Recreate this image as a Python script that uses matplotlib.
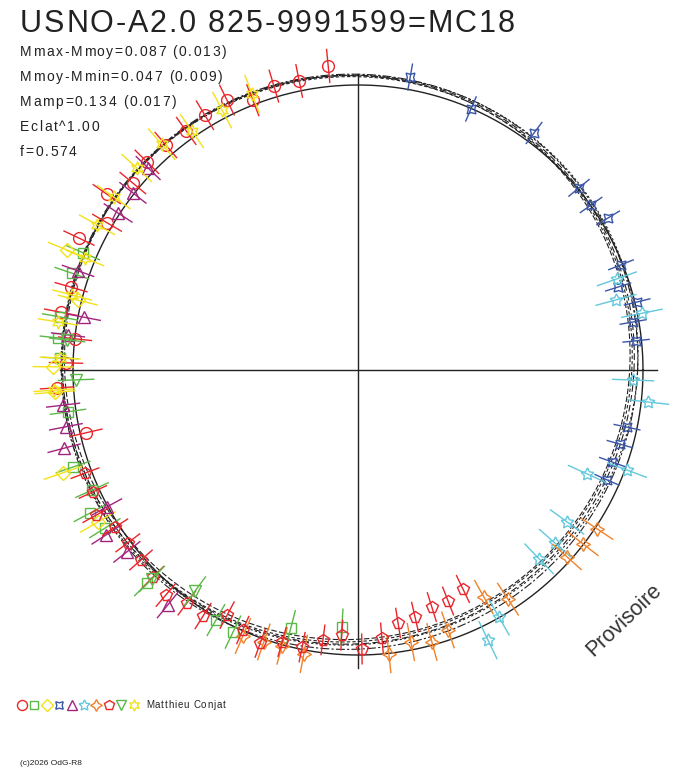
import numpy as np
import matplotlib
matplotlib.use("Agg")
import matplotlib.pyplot as plt
from matplotlib.font_manager import FontProperties
from matplotlib.textpath import TextToPath

plt.rcParams['font.family'] = ['Liberation Sans', 'DejaVu Sans']

# texts ###################################################################
title = "USNO-A2.0 825-9991599=MC18"
info_lines = ["Mmax-Mmoy=0.087 (0.013)",
              "Mmoy-Mmin=0.047 (0.009)",
              "Mamp=0.134 (0.017)",
              "Eclat^1.00",
              "f=0.574"]
observer = "Matthieu Conjat"
copyright_txt = "(c)2026 OdG-R8"
stamp = "Provisoire"

# sessions: phase angle (deg) and relative brightness radius ###############
ang1 = [95.6, 101.5, 106.5, 111.3, 115.9, 121.0, 125.7, 130.5, 135.4, 140.3,
        145.0, 149.6, 154.7, 163.9, 169.0, 173.7, 178.6, 183.4, 193.0]
rad1 = [1.072, 1.035, 1.039, 1.016, 1.053, 1.043, 1.033, 1.038, 1.040, 1.027,
        1.076, 1.021, 1.083, 1.048, 1.062, 0.999, 1.025, 1.058, 0.980]
ang2 = [156.9, 161.3, 169.9, 173.9, 177.7, 188.2, 198.8, 204.3, 208.1, 212.0,
        225.3, 240.4, 244.5, 255.4, 266.4]
rad2 = [1.049, 1.060, 1.062, 1.059, 1.046, 1.028, 1.056, 1.024, 1.066, 1.047,
        1.052, 1.009, 1.019, 0.935, 0.903]
ang3 = [157.6, 166.0, 179.4, 184.2, 199.2, 210.3]
rad3 = [1.104, 1.013, 1.070, 1.066, 1.096, 1.057]
ang4 = [79.9, 66.6, 53.4, 39.5, 35.3, 31.3, 21.8, 17.7, 13.7, 9.9,
        6.0, -12.0, -15.8, -19.9, -23.8]
rad4 = [1.044, 0.998, 1.036, 1.005, 1.002, 1.027, 0.994, 0.958, 1.008, 0.980,
        0.981, 0.965, 0.955, 0.948, 0.955]
ang5 = [136.1, 141.8, 146.8, 160.5, 169.1, 173.1, 186.8, 191.0, 194.9, 208.6,
        213.2, 218.2, 231.0]
rad5 = [1.022, 1.005, 1.006, 1.042, 0.979, 1.025, 1.042, 1.044, 1.067, 1.003,
        1.057, 1.032, 1.060]
ang6 = [19.4, 15.2, 11.3, -2.1, -6.3, -20.4, -24.4, -36.0, -41.3, -46.2,
        -60.3, -64.3]
rad6 = [0.963, 0.938, 1.016, 0.966, 1.024, 1.007, 0.883, 0.907, 0.920, 0.918,
        0.998, 1.052]
ang7 = [-33.6, -37.7, -41.8, -56.8, -61.0, -70.9, -74.8, -79.0, -83.8, -100.8,
        -105.4, -109.1, -113.4]
rad7 = [1.007, 0.998, 0.984, 0.961, 0.911, 0.965, 0.989, 0.972, 1.002, 1.014,
        1.004, 1.010, 1.017]
ang8 = [-64.4, -68.7, -72.7, -77.0, -81.0, -84.9, -89.2, -93.5, -97.4, -101.4,
        -105.6, -109.7, -113.9, -118.1, -122.2, -126.3, -130.5, -134.7, -138.8,
        -143.1, -147.1, -151.0, -155.3, -159.3]
rad8 = [0.852, 0.870, 0.871, 0.889, 0.899, 0.944, 0.979, 0.932, 0.955, 0.992,
        0.991, 1.018, 0.998, 0.975, 1.020, 1.014, 1.038, 1.022, 1.012, 1.010,
        1.015, 1.051, 1.024, 1.024]
ang9 = [174.1, 182.0, 225.4, 233.6]
rad9 = [1.026, 0.990, 1.030, 0.964]
ang10 = [111.0, 117.6, 124.8, 131.0, 137.6, 144.7, 150.9, 157.7, 165.3, 170.9,
         177.7, 183.8]
rad10 = [1.037, 1.029, 1.021, 1.050, 1.051, 1.050, 1.048, 1.035, 1.037, 1.066,
         1.046, 1.069]

session_ang = [ang1, ang2, ang3, ang4, ang5, ang6, ang7, ang8, ang9, ang10]
session_rad = [rad1, rad2, rad3, rad4, rad5, rad6, rad7, rad8, rad9, rad10]
session_err = [0.058, 0.062, 0.070, 0.046, 0.058, 0.072, 0.066, 0.052, 0.062, 0.070]
colors = ['#e8262b', '#5ab947', '#f2e21a', '#3a56a6', '#a3247d',
          '#62c8dc', '#f0822a', '#e8262b', '#5ab947', '#f2e21a']
markers = ['o', 's', 'D', (4, 1, 45), '^', (5, 1, 0), (4, 1, 0), 'p', 'v', (6, 1, 0)]
msizes = [8.5, 7.5, 7, 9, 8, 9.5, 10, 8.5, 8, 9.5]

# fourier fits (several solutions) ########################################
fit_c0 = [-0.010, -0.005, 0.000, 0.005, 0.010]
fit_c1 = [0.058, 0.054, 0.050, 0.046, 0.042]
fit_p1 = [131, 135, 133, 130, 136]
fit_c2 = [0.004, 0.008, 0.006, 0.010, 0.005]
fit_p2 = [70, 60, 65, 55, 75]
fit_ls = [(0, (5, 2)), (0, (3, 2)), (0, (6, 3)), (0, (2, 2)), (0, (8, 2, 2, 2))]

W, H = 688, 768
CX, CY, R = 358, 370, 285.0

fig = plt.figure(figsize=(W / 100, H / 100), dpi=100)
ax = fig.add_axes([0, 0, 1, 1])
ax.set_xlim(-CX / R, (W - CX) / R)
ax.set_ylim(-(H - CY) / R, CY / R)
ax.axis('off')

ink = '#222222'
th = np.radians(np.linspace(0, 360, 1441))
ax.plot(np.cos(th), np.sin(th), color=ink, lw=1.0)
for c0, c1, p1, c2, p2, ls in zip(fit_c0, fit_c1, fit_p1, fit_c2, fit_p2, fit_ls):
    r = 1 + c0 + c1 * np.cos(th - np.radians(p1)) + c2 * np.cos(2 * th - np.radians(p2))
    ax.plot(r * np.cos(th), r * np.sin(th), color=ink, lw=0.8, ls=ls)

ax.plot([-1.045, 1.05], [0, 0], color=ink, lw=1.0)
ax.plot([0, 0], [-1.045, 1.04], color=ink, lw=1.0)

for ang, rad, e, col, m, ms in zip(session_ang, session_rad, session_err,
                                   colors, markers, msizes):
    a = np.radians(ang)
    r = np.array(rad)
    for ai, ri in zip(a, r):
        ax.plot([(ri - e) * np.cos(ai), (ri + e) * np.cos(ai)],
                [(ri - e) * np.sin(ai), (ri + e) * np.sin(ai)],
                color=col, lw=1.0)
    ax.plot(r * np.cos(a), r * np.sin(a), ls='none', marker=m, ms=ms,
            mfc='none', mec=col, mew=1.0)

# overlay in pixel coordinates for texts and legend row ####################
lax = fig.add_axes([0, 0, 1, 1])
lax.set_xlim(0, W)
lax.set_ylim(H, 0)
lax.axis('off')

ttp = TextToPath()


def spaced_text(x, y, s, size, track, **kw):
    # draw text letter by letter with extra spacing (pixels)
    prop = FontProperties(family='Liberation Sans', size=size)
    ref = ttp.get_text_width_height_descent('M', prop, ismath=False)[0]
    for i, ch in enumerate(s):
        if i == 0:
            adv = 0.0
        else:
            adv = ttp.get_text_width_height_descent(s[:i] + 'M', prop, ismath=False)[0] - ref
        lax.text(x + adv * 100 / 72 + i * track, y, ch, fontproperties=prop,
                 va='baseline', **kw)


spaced_text(20, 32, title, 22, 1.8, color=ink)
for i, s in enumerate(info_lines):
    spaced_text(20, 56 + 25 * i, s, 10, 1.6, color=ink)

for i, (col, m, ms) in enumerate(zip(colors, markers, msizes)):
    lax.plot(22 + 12.4 * i, 705, marker=m, ms=ms * 0.85, mfc='none', mec=col, mew=1.0)
spaced_text(146, 708, observer, 7, 0.8, color=ink)
lax.text(20, 765, copyright_txt, fontsize=6, color=ink, va='baseline')
lax.text(624, 620, stamp, fontsize=15.5, color='#333333', rotation=43.5,
         ha='center', va='center', rotation_mode='anchor')

fig.savefig("out.png", dpi=100)
